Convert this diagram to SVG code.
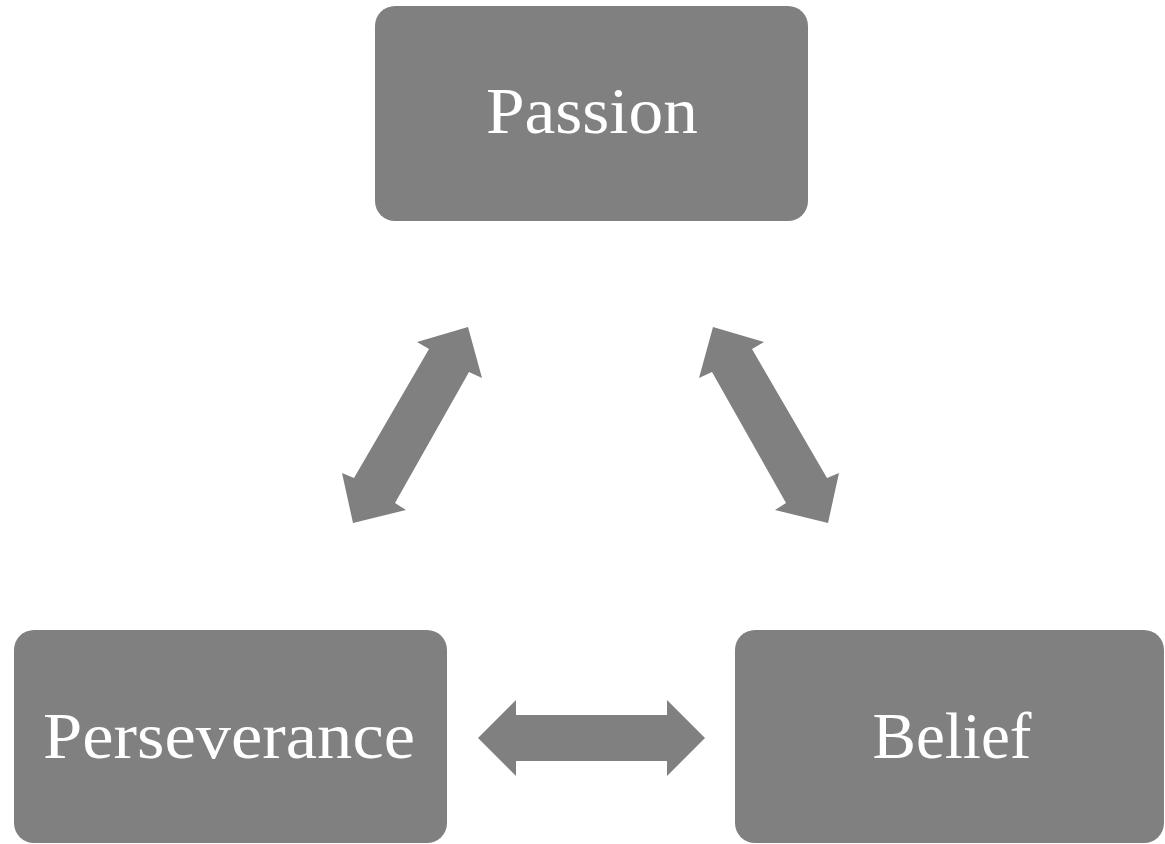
<svg xmlns="http://www.w3.org/2000/svg" width="1165" height="844" viewBox="0 0 1165 844">
<style>
.box{fill:#808080}
.lbl{fill:#ffffff;font-family:"Liberation Serif","DejaVu Serif",serif;font-size:66px;text-anchor:middle}
.arr{fill:#808080}
</style>
<rect width="1165" height="844" fill="#ffffff"/>
<g id="passion">
<rect class="box" x="375" y="6" width="433" height="215" rx="20"/>
<text class="lbl" x="592" y="133" textLength="212" lengthAdjust="spacingAndGlyphs">Passion</text>
</g>
<g id="perseverance">
<rect class="box" x="14" y="630" width="433" height="213" rx="20"/>
<text class="lbl" x="229" y="758" textLength="372" lengthAdjust="spacingAndGlyphs">Perseverance</text>
</g>
<g id="belief">
<rect class="box" x="735" y="630" width="429" height="213" rx="20"/>
<text class="lbl" x="952" y="758" textLength="159" lengthAdjust="spacingAndGlyphs">Belief</text>
</g>
<g id="connectors">
<polygon class="arr" points="468,327 482,378 469,372 395,503 406,510 353,523 342,473 354,478 429,349 417,342"/>
<polygon class="arr" points="713,327 699,378 712,372 786,503 775,510 828,523 839,473 827,478 752,349 764,342"/>
<polygon class="arr" points="478,738 516,700 516,715 667,715 667,700 705,738 667,776 667,761 516,761 516,776"/>
</g>
</svg>
